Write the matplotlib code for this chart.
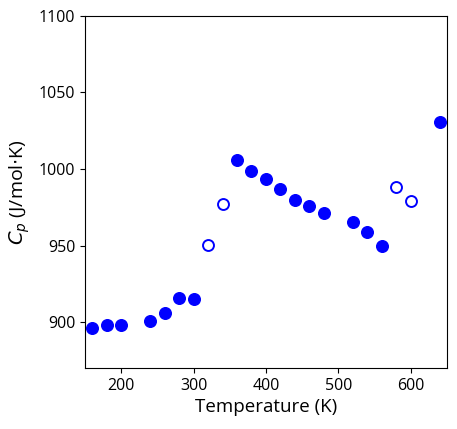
import matplotlib
matplotlib.use("Agg")
import matplotlib.pyplot as plt

plt.rcParams['font.family'] = ['Open Sans', 'DejaVu Sans']
plt.rcParams['mathtext.fontset'] = 'dejavusans'

# filled points
temp_filled = [160, 180, 200, 240, 260, 280, 300, 360, 380, 400, 420, 440, 460, 480, 520, 540, 560, 640]
cp_filled = [896.5, 898.3, 898.0, 900.9, 905.7, 915.7, 915.0, 1005.7, 998.5, 993.5, 986.7, 979.7,
             975.8, 971.5, 965.6, 958.6, 949.5, 1030.5]
# open points
temp_open = [320, 340, 580, 600]
cp_open = [950.1, 977.4, 988.5, 978.9]

xticks = [200, 300, 400, 500, 600]
yticks = [900, 950, 1000, 1050, 1100]

fig = plt.figure(figsize=(4.57, 4.29), dpi=100)
ax = fig.add_axes([0.186, 0.142, 0.792, 0.821])

ax.scatter(temp_filled, cp_filled, s=70, color='blue', edgecolors='blue', zorder=3)
ax.scatter(temp_open, cp_open, s=62, facecolors='white', edgecolors='blue', linewidths=1.4, zorder=3)

ax.set_xlim(150, 650)
ax.set_ylim(870, 1100)
ax.set_xticks(xticks)
ax.set_yticks(yticks)
ax.tick_params(labelsize=11.5)
ax.set_xlabel('Temperature (K)', fontsize=13.5, labelpad=3)
ax.set_ylabel(r'$C_p$ (J/mol$\cdot$K)', fontsize=14, labelpad=5)

fig.savefig('out.png', dpi=100)
